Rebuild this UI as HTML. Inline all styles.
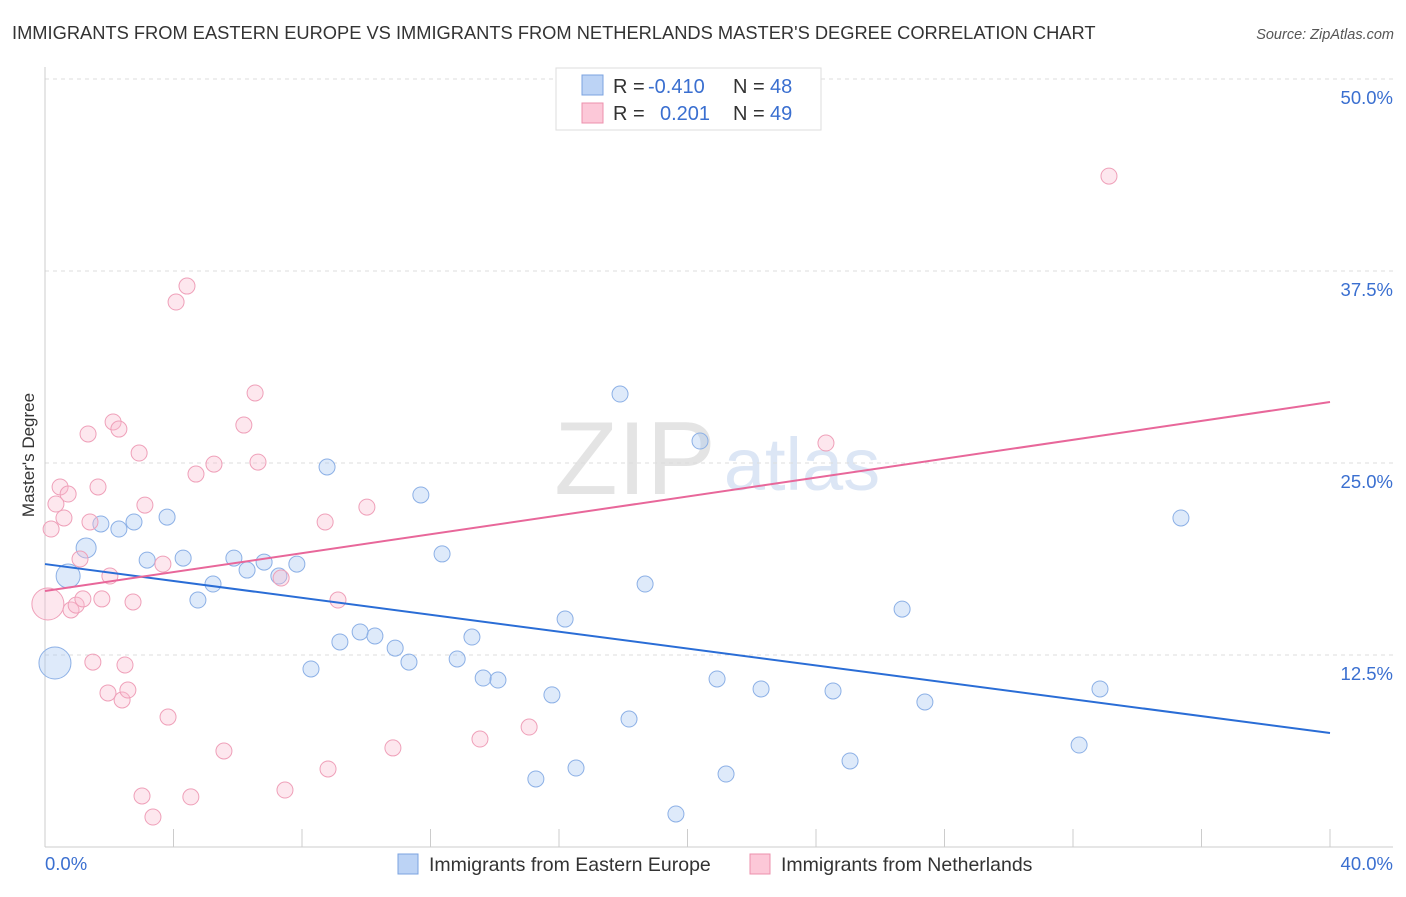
<!DOCTYPE html>
<html><head><meta charset="utf-8"><style>
body{margin:0;background:#fff;font-family:"Liberation Sans",sans-serif}
svg text{font-family:"Liberation Sans",sans-serif}
</style></head><body>
<svg id="chart" width="1406" height="892" xmlns="http://www.w3.org/2000/svg">
<text x="12" y="39" font-size="18.3" fill="#333">IMMIGRANTS FROM EASTERN EUROPE VS IMMIGRANTS FROM NETHERLANDS MASTER'S DEGREE CORRELATION CHART</text>
<text x="1394" y="39" font-size="14.5" fill="#555" font-style="italic" text-anchor="end">Source: ZipAtlas.com</text>
<text x="635" y="494" font-size="104" fill="#e4e4e4" font-family="Liberation Serif" text-anchor="middle">ZIP</text>
<text x="802" y="490" font-size="74" fill="#dce6f5" text-anchor="middle">atlas</text>
<g id="grid"></g><g id="pts"></g><g id="lines"></g>
<text transform="translate(34,455) rotate(-90)" font-size="17" fill="#333" text-anchor="middle">Master's Degree</text>
<g>
<rect x="556" y="68" width="265" height="62" fill="#fff" stroke="#ddd"/>
<rect x="582" y="75" width="21" height="20" fill="#bcd3f5" stroke="#7ba3e0"/>
<rect x="582" y="103" width="21" height="20" fill="#fcc8d8" stroke="#ec90ad"/>
<text x="613" y="93" font-size="20" fill="#333">R = <tspan fill="#3a6fd0" x="648">-0.410</tspan></text>
<text x="733" y="93" font-size="20" fill="#333">N = <tspan fill="#3a6fd0" x="770">48</tspan></text>
<text x="613" y="120" font-size="20" fill="#333">R = <tspan fill="#3a6fd0" x="660">0.201</tspan></text>
<text x="733" y="120" font-size="20" fill="#333">N = <tspan fill="#3a6fd0" x="770">49</tspan></text>
</g>
<g>
<rect x="398" y="854" width="20" height="20" fill="#bcd3f5" stroke="#7ba3e0"/>
<text x="429" y="871" font-size="19.5" fill="#333">Immigrants from Eastern Europe</text>
<rect x="750" y="854" width="20" height="20" fill="#fcc8d8" stroke="#ec90ad"/>
<text x="781" y="871" font-size="19.5" fill="#333">Immigrants from Netherlands</text>
</g>
</svg>
<script>
const yTicks=[50,37.5,25,12.5];
const xTickLabels=["0.0%","40.0%"];
const blueX=[0.72,0.31,1.28,1.74,2.30,2.77,3.80,3.18,4.30,4.76,5.23,5.88,6.29,6.82,7.28,7.84,8.28,8.78,9.18,9.81,10.27,10.90,11.33,11.70,12.36,12.83,13.29,13.64,14.10,15.28,15.78,16.19,16.53,17.90,18.18,18.68,19.64,20.39,20.92,21.20,22.29,24.53,25.06,26.68,27.39,32.19,32.84,35.36];
const blueY=[17.64,11.98,19.47,21.03,20.70,21.16,21.48,18.68,18.81,16.08,17.12,18.81,18.03,18.55,17.64,18.42,11.59,24.74,13.35,14.00,13.74,12.95,12.04,22.92,19.08,12.24,13.67,11.00,10.87,4.43,9.90,14.84,5.14,29.49,8.33,17.12,2.15,26.43,10.94,4.75,10.29,10.16,5.60,15.49,9.44,6.64,10.29,21.42];
const pinkX=[0.09,0.19,0.34,0.47,0.59,0.72,0.81,0.97,1.09,1.18,1.34,1.40,1.65,1.49,1.77,1.96,2.02,2.12,2.30,2.40,2.49,2.58,2.74,2.93,3.02,3.11,3.36,3.67,3.83,4.08,4.42,4.54,4.70,5.26,5.57,6.19,6.54,6.63,7.35,7.47,8.72,8.81,9.12,10.02,10.83,13.54,15.07,24.31,33.12];
const pinkY=[15.82,20.70,22.33,23.44,21.42,22.98,15.43,15.75,18.75,16.15,26.89,21.16,23.44,12.04,16.15,10.03,17.64,27.67,27.21,9.57,11.85,10.22,15.95,25.65,3.32,22.26,1.95,18.42,8.46,35.48,36.52,3.26,24.28,24.93,6.25,27.47,29.56,25.06,17.51,3.71,21.16,5.08,16.08,22.13,6.45,7.03,7.81,26.30,43.68];
const blueTrend=[18.42,7.42];
const pinkTrend=[16.67,28.97];
const xs=v=>45+v/40*1285, ys=v=>847-v*15.36;
const NS="http://www.w3.org/2000/svg";
function mk(tag,at,parent){const e=document.createElementNS(NS,tag);for(const k in at)e.setAttribute(k,at[k]);document.getElementById(parent).appendChild(e);return e;}
yTicks.forEach(t=>{
 const l=mk('line',{x1:45,x2:1393,y1:ys(t),y2:ys(t),stroke:'#ddd','stroke-dasharray':'4,4'},'grid');
 
 
 const tx=mk('text',{x:1393,y:ys(t)+25,'font-size':18.5,fill:'#3a6fd0','text-anchor':'end'},'grid');
 tx.textContent=t.toFixed(1)+'%';
 
 
});
const ax=mk('line',{x1:45,x2:1393,y1:847,y2:847,stroke:'#ccc'},'grid');


const ay=mk('line',{x1:45,x2:45,y1:67,y2:847,stroke:'#ccc'},'grid');


for(let i=1;i<=10;i++){const t=mk('line',{x1:xs(i*4),x2:xs(i*4),y1:829,y2:847,stroke:'#ccc'},'grid');
 
 }
[[0,'start',45],[40,'end',1393]].forEach((p,i)=>{const t=mk('text',{x:p[2],y:870,'font-size':18.5,fill:'#3a6fd0','text-anchor':p[1]},'grid');t.textContent=xTickLabels[i];
 
 });
function rad(arrName,i){if(arrName==='b'){if(i===1)return 16;if(i===0)return 12;if(i===2)return 10;}else if(i===0)return 16;return 8;}
blueX.forEach((x,i)=>{const c=mk('circle',{cx:xs(x),cy:ys(blueY[i]),r:rad('b',i),fill:'rgba(160,195,240,0.35)',stroke:'#8cb0e6','stroke-width':1},'pts');
 
 });
pinkX.forEach((x,i)=>{const c=mk('circle',{cx:xs(x),cy:ys(pinkY[i]),r:rad('p',i),fill:'rgba(250,185,205,0.35)',stroke:'#efa0b9','stroke-width':1},'pts');
 
 });
const bl=mk('line',{x1:xs(0),y1:ys(blueTrend[0]),x2:xs(40),y2:ys(blueTrend[1]),stroke:'#2a6dd6','stroke-width':2},'lines');


const pl=mk('line',{x1:xs(0),y1:ys(pinkTrend[0]),x2:xs(40),y2:ys(pinkTrend[1]),stroke:'#e8679a','stroke-width':2},'lines');


</script>
</body></html>
